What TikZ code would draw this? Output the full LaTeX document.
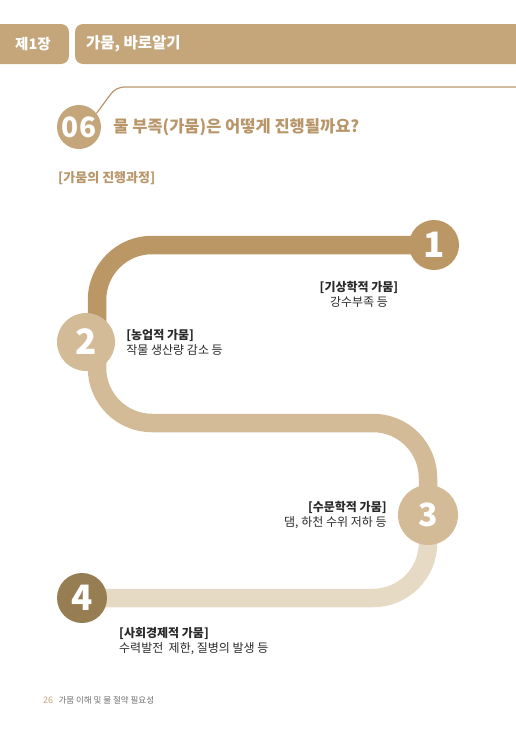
\documentclass[tikz,border=0pt]{standalone}
\usepackage{fontspec}
\setmainfont{Noto Sans CJK KR}
\usetikzlibrary{positioning, backgrounds}

\definecolor{gold}{HTML}{C4A67A}
\definecolor{titlegold}{HTML}{B8966A}
\definecolor{trackA}{HTML}{BC9766}
\definecolor{trackB}{HTML}{D3BB97}
\definecolor{trackC}{HTML}{E7DAC5}
\definecolor{dotD}{HTML}{977D52}
\definecolor{textdark}{HTML}{2A2A2A}
\definecolor{footgray}{HTML}{6E6E6E}

\begin{document}
\begin{tikzpicture}[
    x=1pt, y=-1pt,
    tab/.style={fill=gold, rounded corners=8pt},
    tabtext/.style={anchor=west, inner sep=0pt, text=white, font=\fontsize{14.5}{14.5}\selectfont\bfseries},
    numdot/.style={circle, inner sep=0pt, text=white, font=\fontsize{35}{35}\selectfont\bfseries},
    track/.style={line width=18.5pt, rounded corners=55pt},
    caption/.style={inner sep=0pt, text=textdark, font=\fontsize{12}{15}\selectfont}
]
\useasboundingbox (0,0) rectangle (516,729);

% 머리말 탭
\fill[tab] (-20,24) rectangle (69,64);
\fill[tab] (75,24) rectangle (540,64);
\node[tabtext] (chapter) at (15,44) {제1장};
\node[tabtext, font=\fontsize{15.5}{15.5}\selectfont\bfseries] (chaptitle) at (86,44) {가뭄, 바로알기};

% 소제목
\node[numdot, fill=gold, minimum size=44pt, font=\fontsize{28}{28}\selectfont\bfseries] (n06) at (79,127) {06};
\draw[titlegold, line width=1.2pt, rounded corners=8pt] (n06.38) -- (116,87) -- (540,87);
\node[anchor=west, inner sep=0pt, text=titlegold, font=\fontsize{16.5}{16.5}\selectfont\bfseries, right=12pt of n06] (title) {물 부족(가뭄)은 어떻게 진행될까요?};
\node[anchor=west, inner sep=0pt, text=titlegold, font=\fontsize{13}{13}\selectfont\bfseries] (subtitle) at (58,178) {[가뭄의 진행과정]};

% 단계
\node[numdot, fill=trackA, minimum size=50pt] (n1) at (434,245) {1};
\node[numdot, fill=trackB, minimum size=58pt] (n2) at (86,342) {2};
\node[numdot, fill=trackB, minimum size=60pt, font=\fontsize{32}{32}\selectfont\bfseries] (n3) at (428,515) {3};
\node[numdot, fill=dotD, minimum size=50pt] (n4) at (82,598) {4};

\node[caption, align=center] (cap1) at (359,294) {{\bfseries [기상학적 가뭄]}\\강수부족 등};
\node[caption, align=left, right=11pt of n2] (cap2) {{\bfseries [농업적 가뭄]}\\작물 생산량 감소 등};
\node[caption, align=right, left=11pt of n3] (cap3) {{\bfseries [수문학적 가뭄]}\\댐, 하천 수위 저하 등};
\node[caption, align=left, anchor=west] (cap4) at (119,641) {{\bfseries [사회경제적 가뭄]}\\수력발전\ \ 제한, 질병의 발생 등};

% 연결선
\coordinate (bend1) at (97,245);
\coordinate (j2) at (97,342);
\coordinate (bend2) at (97,423);
\coordinate (bend3) at (428,423);
\coordinate (bend4) at (428,598);
\begin{scope}[on background layer]
\draw[track, draw=trackA] (n1.center) -- (bend1) -- (j2);
\draw[track, draw=trackB] (j2) -- (bend2) -- (bend3) -- (n3.center);
\draw[track, draw=trackC] (n3.center) -- (bend4) -- (n4.center);
\end{scope}

% 쪽 번호
\node[anchor=west, inner sep=0pt, text=gold, font=\fontsize{9}{9}\selectfont] (pageno) at (43,700) {26};
\node[anchor=west, inner sep=0pt, text=footgray, font=\fontsize{8.5}{9}\selectfont, right=5pt of pageno] (booktitle) {가뭄 이해 및 물 절약 필요성};
\end{tikzpicture}
\end{document}
